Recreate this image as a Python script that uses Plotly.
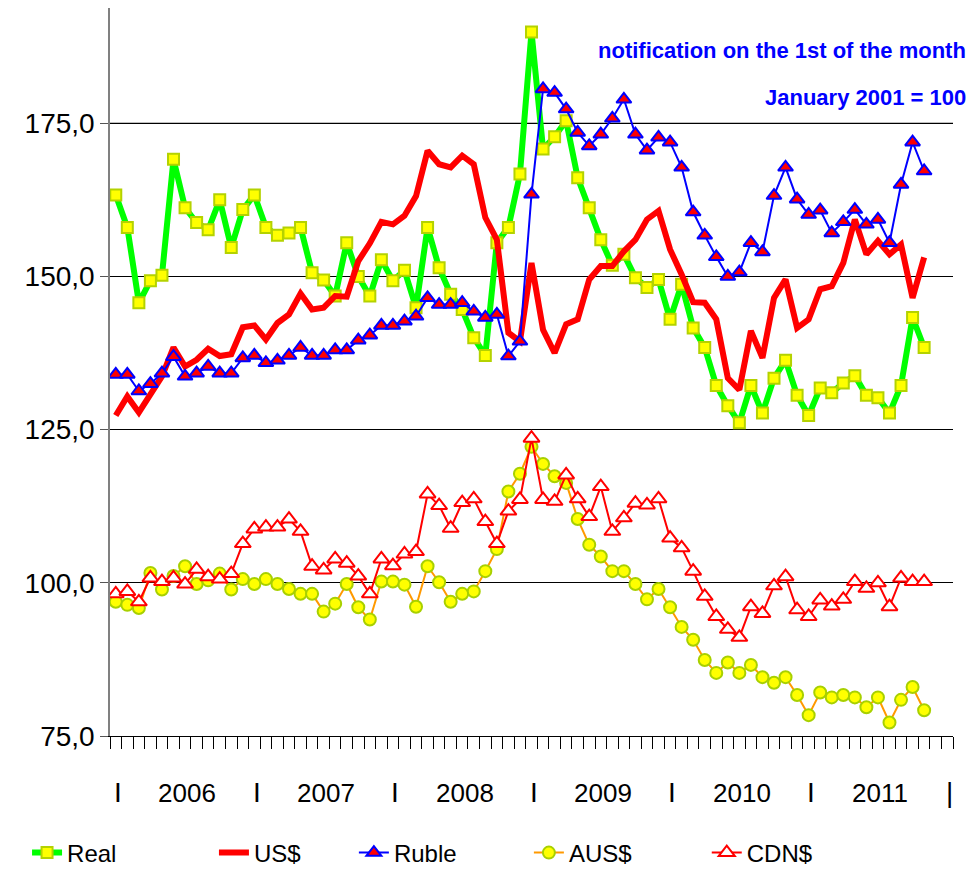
import plotly.graph_objects as go

# ---------------- data (monthly, Jan 2006 .. Nov 2011; index = month number) ----------------
months = list(range(71))

real = [163.3, 158.0, 145.7, 149.3, 150.2, 169.1, 161.2, 158.8, 157.6, 162.5,
        154.7, 160.9, 163.3, 158.0, 156.7, 157.1, 158.0, 150.6, 149.4, 146.8,
        155.5, 150.0, 146.8, 152.7, 149.3, 151.0, 144.9, 158.0, 151.4, 147.1,
        144.6, 140.0, 137.1, 155.5, 158.0, 166.7, 189.9, 170.8, 172.8, 175.4,
        166.1, 161.2, 156.0, 151.8, 153.6, 149.8, 148.2, 149.5, 143.0, 148.7,
        141.6, 138.4, 132.2, 128.9, 126.1, 132.2, 127.7, 133.4, 136.3, 130.6,
        127.3, 131.8, 131.0, 132.6, 133.8, 130.6, 130.2, 127.7, 132.2, 143.3,
        138.4]

usd = [127.3, 130.4, 127.8, 130.7, 133.7, 138.4, 135.3, 136.4, 138.2, 137.0,
       137.3, 141.7, 142.0, 139.7, 142.4, 143.8, 147.2, 144.6, 144.9, 146.8,
       146.7, 152.5, 155.4, 158.9, 158.5, 159.9, 163.1, 170.5, 168.3, 167.8,
       169.7, 168.3, 159.6, 156.0, 140.8, 139.4, 152.2, 141.3, 137.5, 142.2,
       143.0, 149.5, 151.7, 151.7, 154.1, 156.0, 159.3, 160.7, 154.4, 150.3,
       145.8, 145.7, 143.0, 133.4, 131.5, 141.1, 136.7, 146.5, 149.5, 141.6,
       143.0, 147.9, 148.4, 152.2, 159.3, 153.6, 155.8, 153.6, 155.2, 146.5,
       153.1]

ruble = [134.0, 134.0, 131.3, 132.5, 134.2, 136.9, 133.7, 134.2, 135.3, 134.2,
         134.2, 136.7, 137.1, 135.9, 136.3, 137.1, 138.4, 137.1, 137.1, 138.0,
         138.0, 139.6, 140.4, 142.0, 142.0, 142.7, 143.5, 146.5, 145.4, 145.4,
         145.7, 144.3, 143.3, 143.8, 137.0, 139.4, 163.4, 180.6, 180.0, 177.3,
         173.5, 171.3, 173.2, 175.8, 178.9, 173.2, 170.6, 172.7, 171.9, 167.8,
         160.5, 156.7, 153.2, 150.0, 150.7, 155.5, 154.0, 163.2, 167.8, 162.6,
         160.1, 160.8, 157.1, 158.9, 160.9, 158.5, 159.3, 155.5, 165.0, 171.9,
         167.2]

aud = [96.9, 96.4, 95.9, 101.6, 98.9, 101.1, 102.7, 99.8, 100.4, 101.5,
       98.9, 100.6, 99.8, 100.6, 99.8, 99.0, 98.2, 98.2, 95.3, 96.6,
       99.8, 96.0, 94.0, 100.2, 100.2, 99.7, 96.1, 102.7, 100.1, 96.9,
       98.2, 98.6, 101.9, 105.5, 114.9, 117.8, 122.2, 119.4, 117.4, 116.3,
       110.4, 106.2, 104.3, 101.9, 101.9, 99.8, 97.3, 99.0, 96.0, 92.8,
       90.7, 87.4, 85.3, 87.0, 85.3, 86.6, 84.6, 83.7, 84.6, 81.7,
       78.4, 82.1, 81.3, 81.7, 81.3, 79.7, 81.3, 77.2, 80.9, 83.0,
       79.2]

cad = [98.2, 98.6, 96.9, 100.8, 100.2, 100.8, 99.8, 102.2, 101.0, 100.6,
       101.5, 106.4, 108.8, 109.1, 109.1, 110.4, 108.4, 102.7, 102.1, 103.9,
       103.2, 101.1, 98.2, 103.9, 102.8, 104.7, 105.1, 114.5, 112.6, 108.9,
       113.1, 113.7, 110.0, 106.4, 111.7, 113.6, 123.6, 113.6, 113.3, 117.6,
       113.7, 110.8, 115.7, 108.4, 110.6, 113.0, 112.7, 113.7, 107.3, 105.7,
       101.9, 97.8, 94.5, 92.4, 91.1, 96.1, 95.0, 99.5, 101.0, 95.6,
       94.5, 97.2, 96.2, 97.3, 100.2, 99.1, 100.0, 96.1, 100.8, 100.2,
       100.2]

series_names = ["Real", "US$", "Ruble", "AUS$", "CDN$"]
year_labels = ["2006", "2007", "2008", "2009", "2010", "2011"]
year_sep = "I"
y_tickvals = [75, 100, 125, 150, 175]
y_ticktext = ["75,0", "100,0", "125,0", "150,0", "175,0"]
subtitle1 = "notification on the 1st of the month"
subtitle2 = "January 2001 = 100"

# ---------------- figure ----------------
FONT = "Liberation Sans, Arial, sans-serif"
legend_ids = ["legend", "legend2", "legend3", "legend4", "legend5"]
legend_x = [-0.0984, 0.1233, 0.2893, 0.4969, 0.7079]

fig = go.Figure()

fig.add_trace(go.Scatter(
    x=months, y=real, name=series_names[0], mode="lines+markers", legend=legend_ids[0],
    line=dict(color="#00FF00", width=6),
    marker=dict(symbol="square", size=11, color="#FFFF00",
                line=dict(color="#B4D200", width=2))))

fig.add_trace(go.Scatter(
    x=months, y=usd, name=series_names[1], mode="lines", legend=legend_ids[1],
    line=dict(color="#FF0000", width=6)))

fig.add_trace(go.Scatter(
    x=months, y=ruble, name=series_names[2], mode="lines+markers", legend=legend_ids[2],
    line=dict(color="#0000FF", width=2),
    marker=dict(symbol="triangle-up", size=13, color="#FF0000",
                line=dict(color="#0000FF", width=2))))

fig.add_trace(go.Scatter(
    x=months, y=aud, name=series_names[3], mode="lines+markers", legend=legend_ids[3],
    line=dict(color="#FF9900", width=2),
    marker=dict(symbol="circle", size=12, color="#FFFF00",
                line=dict(color="#A8D000", width=2))))

fig.add_trace(go.Scatter(
    x=months, y=cad, name=series_names[4], mode="lines+markers", legend=legend_ids[4],
    line=dict(color="#FF0000", width=2),
    marker=dict(symbol="triangle-up", size=14, color="#FFFFFF",
                line=dict(color="#FF0000", width=2))))

annotations = []
# year separators and year labels under the axis
for k in range(len(year_labels) + 1):
    annotations.append(dict(
        x=12 * k + 0.2, y=-0.078, xref="x", yref="paper",
        text=year_sep if k < len(year_labels) else "|",
        showarrow=False, xanchor="center", yanchor="middle",
        font=dict(family=FONT, size=28, color="black")))
for k, lab in enumerate(year_labels):
    annotations.append(dict(
        x=12 * k + 6.2, y=-0.078, xref="x", yref="paper",
        text=lab, showarrow=False, xanchor="center", yanchor="middle",
        font=dict(family=FONT, size=26, color="black")))

annotations.append(dict(
    x=1.0174, y=0.941, xref="paper", yref="paper", text="<b>" + subtitle1 + "</b>",
    showarrow=False, xanchor="right", yanchor="middle",
    font=dict(family=FONT, size=22, color="#0000FF")))
annotations.append(dict(
    x=1.0174, y=0.8765, xref="paper", yref="paper", text="<b>" + subtitle2 + "</b>",
    showarrow=False, xanchor="right", yanchor="middle",
    font=dict(family=FONT, size=22, color="#0000FF")))

legend_layout = {}
for lid, lx in zip(legend_ids, legend_x):
    legend_layout[lid] = dict(
        orientation="h", x=lx, xanchor="left", y=-0.1607, yanchor="middle",
        font=dict(family=FONT, size=24, color="black"),
        bgcolor="rgba(0,0,0,0)", itemsizing="trace")

fig.update_layout(
    width=968, height=862,
    margin=dict(l=102, r=23, t=0, b=134, autoexpand=False),
    paper_bgcolor="white", plot_bgcolor="white",
    showlegend=True,
    annotations=annotations,
    shapes=[dict(type="line", xref="paper", x0=0, x1=1, yref="y", y0=175, y1=175,
                 line=dict(color="#808080", width=1.5), layer="between")],
    **legend_layout,
)

fig.update_xaxes(
    range=[-0.5, 72.5], tickmode="linear", tick0=-0.5, dtick=1,
    ticks="outside", ticklen=12, tickcolor="black", tickwidth=1,
    showticklabels=False, showgrid=False, zeroline=False,
    showline=True, linecolor="black", linewidth=1)

fig.update_yaxes(
    range=[75, 193.8], tickmode="array", tickvals=y_tickvals, ticktext=y_ticktext,
    ticks="outside", ticklen=8, tickcolor="#555555",
    showgrid=True, gridcolor="black", gridwidth=1, zeroline=False,
    showline=True, linecolor="#808080", linewidth=1.5,
    tickfont=dict(family=FONT, size=28, color="black"))

fig.write_html("out.html")
